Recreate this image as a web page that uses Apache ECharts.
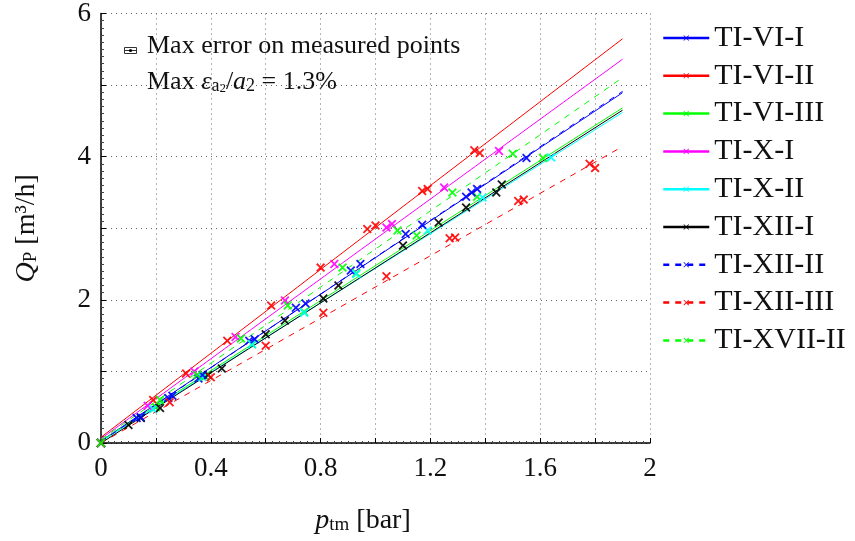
<!DOCTYPE html>
<html>
<head>
<meta charset="utf-8">
<script src="https://cdn.jsdelivr.net/npm/echarts@6/dist/echarts.min.js"></script>
<style>html,body{margin:0;padding:0;background:#fff;}#c{width:855px;height:541px;}</style>
</head>
<body>
<div id="c"></div>
<script>
// ---- data ----
const seriesNames = ['TI-VI-I','TI-VI-II','TI-VI-III','TI-X-I','TI-X-II','TI-XII-I','TI-XII-II','TI-XII-III','TI-XVII-II'];
const seriesColors = ['#0000ff','#ff0000','#00ff00','#ff00ff','#00ffff','#000000','#0000ff','#ff0000','#00ff00'];
const seriesDash = ['solid','solid','solid','solid','solid','solid','dashed','dashed','dashed'];
// fitted lines Q = slope * p + intercept, drawn over p in [0, 1.9]
const fitSlope = [2.56, 2.93, 2.448, 2.79, 2.42, 2.447, 2.575, 2.18, 2.66];
const fitIntercept = [0.03, 0.08, 0.03, 0.06, 0.02, 0.0, 0.02, 0.0, 0.05];
const fitRange = [0, 1.9];
// measured points [p_tm (bar), Q_P (m3/h)]
const ptsTI_VI_I = [[0,0],[0.13,0.35],[0.245,0.63],[0.355,0.90],[0.54,1.43],[0.71,1.89],[0.91,2.41],[1.11,2.92],[1.33,3.44],[1.55,3.98]];
const ptsTI_VI_II = [[0,0],[0.19,0.60],[0.31,0.97],[0.46,1.43],[0.62,1.92],[0.80,2.45],[0.97,2.99],[1.00,3.04],[1.17,3.52],[1.19,3.55],[1.36,4.09],[1.38,4.05]];
const ptsTI_VI_III = [[0,0],[0.20,0.50],[0.38,0.93],[0.55,1.38],[0.74,1.83],[0.93,2.37],[1.15,2.90],[1.37,3.44],[1.61,3.98]];
const ptsTI_X_I = [[0,0],[0.17,0.52],[0.34,1.00],[0.49,1.48],[0.67,1.99],[0.85,2.50],[1.04,3.01],[1.06,3.06],[1.25,3.57],[1.45,4.08]];
const ptsTI_X_II = [[0,0],[0.19,0.47],[0.37,0.92],[0.55,1.38],[0.74,1.82],[0.93,2.36],[1.19,2.97],[1.39,3.43],[1.64,3.99]];
const ptsTI_XII_I = [[0,0],[0.10,0.25],[0.145,0.35],[0.215,0.49],[0.39,0.95],[0.44,1.04],[0.60,1.52],[0.67,1.71],[0.81,2.02],[0.865,2.20],[1.10,2.76],[1.23,3.08],[1.33,3.29],[1.44,3.50],[1.46,3.61]];
const ptsTI_XII_II = [[0,0],[0.145,0.36],[0.26,0.66],[0.37,0.95],[0.56,1.45],[0.745,1.95],[0.945,2.50],[1.17,3.05],[1.35,3.50],[1.37,3.55]];
const ptsTI_XII_III = [[0,0],[0.25,0.57],[0.40,0.92],[0.60,1.36],[0.81,1.82],[1.04,2.33],[1.27,2.86],[1.29,2.87],[1.52,3.38],[1.54,3.40],[1.78,3.90],[1.80,3.84]];
const ptsTI_XVII_II = [[0,0],[0.215,0.60],[0.35,0.95],[0.51,1.46],[0.68,1.92],[0.88,2.45],[1.08,2.97],[1.28,3.50],[1.50,4.04]];
const allPoints = [ptsTI_VI_I, ptsTI_VI_II, ptsTI_VI_III, ptsTI_X_I, ptsTI_X_II, ptsTI_XII_I, ptsTI_XII_II, ptsTI_XII_III, ptsTI_XVII_II];
const xTicks = [0, 0.4, 0.8, 1.2, 1.6, 2];
const yTicks = [0, 2, 4, 6];

// ---- chart ----
const FONT = 'Liberation Serif';
const X_SYM = 'path://M-5,-4 L-4,-5 L0,-1 L4,-5 L5,-4 L1,0 L5,4 L4,5 L0,1 L-4,5 L-5,4 L-1,0 Z';
const X_SYM_BOLD = 'path://M-5,-3.6 L-3.6,-5 L0,-1.4 L3.6,-5 L5,-3.6 L1.4,0 L5,3.6 L3.6,5 L0,1.4 L-3.6,5 L-5,3.6 L-1.4,0 Z';

const lineSeries = seriesNames.map((n, i) => ({
  name: n, type: 'line',
  data: fitRange.map(p => [p, fitSlope[i] * p + fitIntercept[i]]),
  showSymbol: false, symbol: X_SYM, symbolSize: 6,
  itemStyle: { color: seriesColors[i] },
  lineStyle: { color: seriesColors[i], width: 1, type: seriesDash[i] === 'dashed' ? [6, 6] : 'solid' },
  silent: true, animation: false, z: 2
}));
const scatterSeries = seriesNames.map((n, i) => ({
  name: n, type: 'scatter',
  data: allPoints[i],
  symbol: X_SYM_BOLD, symbolSize: 9,
  itemStyle: { color: seriesColors[i], opacity: 0.9 },
  animation: false, z: 3
}));

const chart = echarts.init(document.getElementById('c'), null, { renderer: 'canvas' });
chart.setOption({
  backgroundColor: '#fff',
  animation: false,
  textStyle: { fontFamily: FONT },
  grid: { left: 101, right: 205, top: 12, bottom: 98, containLabel: false },
  legend: {
    data: seriesNames,
    orient: 'vertical', left: 657, top: 18,
    itemWidth: 46, itemHeight: 7, itemGap: 7.8,
    textStyle: { fontFamily: FONT, fontSize: 30, color: '#111', lineHeight: 30 },
    lineStyle: { width: 2.5 },
    selectedMode: false
  },
  xAxis: {
    type: 'value', min: 0, max: 2, interval: 0.2,
    axisLine: { show: true, lineStyle: { color: '#000', width: 1.5 } },
    axisTick: { show: true, inside: true, length: 5, lineStyle: { color: '#000' } },
    minorTick: { show: true, splitNumber: 8, length: 2, lineStyle: { color: '#444' } },
    axisLabel: {
      margin: 12, fontFamily: FONT, fontSize: 27, color: '#111',
      formatter: v => { const m = xTicks.find(t => Math.abs(t - v) < 1e-6); return m === undefined ? '' : String(m); }
    },
    splitLine: { show: true, lineStyle: { color: '#666', type: [1, 4], width: 1 } },
    name: '{i|p}{s|tm} [bar]', nameLocation: 'middle', nameGap: 63,
    nameTextStyle: {
      fontFamily: FONT, fontSize: 28, color: '#111', padding: [0, 25, 0, 0],
      rich: {
        i: { fontFamily: FONT, fontStyle: 'italic', fontSize: 28, color: '#111' },
        s: { fontFamily: FONT, fontSize: 19, color: '#111', verticalAlign: 'bottom', padding: [10, 0, 0, 0] }
      }
    }
  },
  yAxis: {
    type: 'value', min: 0, max: 6, interval: 1,
    axisLine: { show: true, lineStyle: { color: '#000', width: 1.5 } },
    axisTick: { show: true, inside: true, length: 5, lineStyle: { color: '#000' } },
    minorTick: { show: true, splitNumber: 10, length: 3, lineStyle: { color: '#444' } },
    axisLabel: {
      margin: 10, fontFamily: FONT, fontSize: 27, color: '#111',
      formatter: v => { const m = yTicks.find(t => Math.abs(t - v) < 1e-6); return m === undefined ? '' : String(m); }
    },
    splitLine: { show: true, lineStyle: { color: '#666', type: [1, 4], width: 1 } },
    name: '{i|Q}{s|P} [m³/h]', nameLocation: 'middle', nameGap: 60, nameRotate: 90,
    nameTextStyle: {
      fontFamily: FONT, fontSize: 28, color: '#111',
      rich: {
        i: { fontFamily: FONT, fontStyle: 'italic', fontSize: 28, color: '#111' },
        s: { fontFamily: FONT, fontSize: 19, color: '#111', verticalAlign: 'bottom', padding: [10, 0, 0, 0] }
      }
    }
  },
  graphic: [
    { type: 'group', left: 122, top: 45, children: [
      { type: 'rect', shape: { x: 0, y: 0, width: 12, height: 6 }, style: { fill: 'none', stroke: '#333', lineWidth: 1 } },
      { type: 'line', shape: { x1: 0, y1: 3, x2: 12, y2: 3 }, style: { stroke: '#333', lineWidth: 1 } },
      { type: 'circle', shape: { cx: 6, cy: 3, r: 1.6 }, style: { fill: '#000' } }
    ]},
    { type: 'text', left: 147, top: 33, style: { text: 'Max error on measured points', fontFamily: FONT, fontSize: 26, fill: '#111' } },
    { type: 'text', left: 147, top: 69, style: {
      text: 'Max {i|ε}{s|a}{ss|2}{n|/}{i|a}{s|2}{n| = 1.3%}',
      fontFamily: FONT, fontSize: 26, fill: '#111',
      rich: {
        n: { fontFamily: FONT, fontSize: 26, fill: '#111' },
        i: { fontFamily: FONT, fontSize: 26, fontStyle: 'italic', fill: '#111' },
        s: { fontFamily: FONT, fontSize: 18, fill: '#111', verticalAlign: 'bottom', padding: [9, 0, 0, 0] },
        ss: { fontFamily: FONT, fontSize: 13, fill: '#111', verticalAlign: 'bottom', padding: [14, 0, 0, 0] }
      }
    } }
  ],
  series: lineSeries.concat(scatterSeries)
});
</script>
</body>
</html>
